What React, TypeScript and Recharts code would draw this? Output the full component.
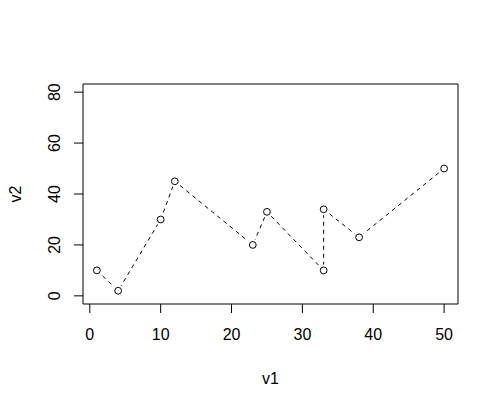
import { LineChart, Line, XAxis, YAxis, ReferenceArea } from 'recharts';

// values
const v1 = [1, 4, 10, 12, 23, 25, 33, 33, 38, 50];
const v2 = [10, 2, 30, 45, 20, 33, 10, 34, 23, 50];

const X_TICKS = [0, 10, 20, 30, 40, 50];
const Y_TICKS = [0, 20, 40, 60, 80];

// R-style 4% padding around the data range
const X_DOMAIN: [number, number] = [-0.96, 51.96];
const Y_DOMAIN: [number, number] = [-3.2, 83.2];

const FONT = '"Liberation Sans", Arial, sans-serif';

const rows = v1.map((x, i) => ({ v1: x, v2: v2[i] }));

function YTick(props: any) {
  const { x, y, payload } = props;
  return (
    <text
      x={x}
      y={y}
      transform={`rotate(-90 ${x} ${y})`}
      textAnchor="middle"
      fontFamily={FONT}
      fontSize={16}
      fill="#000"
    >
      {payload.value}
    </text>
  );
}

// open circle with a white halo so the dashed line stops short of it (type = "b")
function PointDot(props: any) {
  const { cx, cy, index } = props;
  if (cx == null || cy == null) return <g key={index} />;
  return (
    <g key={index}>
      <circle cx={cx} cy={cy} r={6} fill="#fff" stroke="none" />
      <circle cx={cx} cy={cy} r={3.4} fill="none" stroke="#000" strokeWidth={1} />
    </g>
  );
}

export default function App() {
  return (
    <div style={{ position: 'absolute', left: 0, top: 0, width: 500, height: 409, background: '#fff' }}>
      <LineChart width={500} height={409} data={rows} margin={{ top: 84, right: 42, left: 0, bottom: 0 }}>
        <XAxis
          dataKey="v1"
          type="number"
          domain={X_DOMAIN}
          ticks={X_TICKS}
          allowDataOverflow
          height={105}
          axisLine={false}
          tickLine={{ stroke: '#000' }}
          tickSize={9}
          tickMargin={16}
          tick={{ fill: '#000', fontSize: 16, fontFamily: FONT }}
          label={{
            content: (p: any) => {
              const vb = p.viewBox;
              return (
                <text x={vb.x + vb.width / 2} y={vb.y + 80} textAnchor="middle" fontFamily={FONT} fontSize={16} fill="#000">
                  v1
                </text>
              );
            },
          }}
        />
        <YAxis
          type="number"
          domain={Y_DOMAIN}
          ticks={Y_TICKS}
          allowDataOverflow
          width={83}
          axisLine={false}
          tickLine={{ stroke: '#000' }}
          tickSize={9}
          tickMargin={14}
          tick={<YTick />}
          label={{
            content: (p: any) => {
              const vb = p.viewBox;
              const cx = vb.x + 21;
              const cy = vb.y + vb.height / 2;
              return (
                <text
                  x={cx}
                  y={cy}
                  transform={`rotate(-90 ${cx} ${cy})`}
                  textAnchor="middle"
                  fontFamily={FONT}
                  fontSize={16}
                  fill="#000"
                >
                  v2
                </text>
              );
            },
          }}
        />
        <ReferenceArea
          x1={X_DOMAIN[0]}
          x2={X_DOMAIN[1]}
          y1={Y_DOMAIN[0]}
          y2={Y_DOMAIN[1]}
          fill="none"
          fillOpacity={0}
          stroke="#000"
          strokeWidth={1}
          ifOverflow="visible"
        />
        <Line
          dataKey="v2"
          type="linear"
          stroke="#000"
          strokeWidth={1}
          strokeDasharray="4 4"
          dot={PointDot}
          activeDot={false}
          isAnimationActive={false}
        />
      </LineChart>
    </div>
  );
}
